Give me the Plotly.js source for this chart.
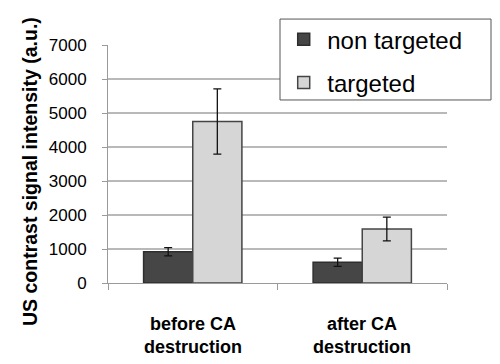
<!DOCTYPE html>
<html>
<head>
<meta charset="utf-8">
<script src="https://cdn.plot.ly/plotly-3.0.1.min.js"></script>
<style>html,body{margin:0;padding:0;background:#fff;}#chart{width:500px;height:364px;}</style>
</head>
<body>
<div id="chart"></div>
<script>
var categories = ["before CA destruction", "after CA destruction"];
var categoryLabels = ["before CA<br>destruction", "after CA<br>destruction"];
var seriesNames = ["non targeted", "targeted"];
var nonTargeted = [920, 610];
var nonTargetedErr = [120, 120];
var targeted = [4750, 1590];
var targetedErr = [960, 350];
var yTicks = [0, 1000, 2000, 3000, 4000, 5000, 6000, 7000];
var yTitle = "US contrast signal intensity (a.u.)";

var FONT = '"Liberation Sans", Arial, sans-serif';

var traces = [
  {
    type: 'bar', name: seriesNames[0], x: categories, y: nonTargeted,
    legendgroup: 'a',
    marker: {color: '#464646', line: {color: '#2e2e2e', width: 1.5}},
    error_y: {type: 'data', array: nonTargetedErr, visible: true, color: '#111', thickness: 1.3, width: 4}
  },
  {
    type: 'bar', name: seriesNames[1], x: categories, y: targeted,
    legendgroup: 'b',
    marker: {color: '#d6d6d6', line: {color: '#454545', width: 1.5}},
    error_y: {type: 'data', array: targetedErr, visible: true, color: '#111', thickness: 1.3, width: 4}
  }
];

var annotations = [{
  text: yTitle, textangle: -90, xref: 'paper', yref: 'paper',
  x: 0, y: 0.5, xshift: -91, yshift: -8, showarrow: false,
  font: {family: FONT, size: 19.5, color: '#000', weight: 'bold'}
}];
categories.forEach(function (c, i) {
  annotations.push({
    text: '<b>' + categoryLabels[i] + '</b>', x: c, xref: 'x', yref: 'paper', y: 0,
    yanchor: 'top', yshift: -29, showarrow: false,
    font: {family: FONT, size: 18, color: '#000'}
  });
});

var layout = {
  width: 500, height: 364,
  margin: {l: 108, r: 53, t: 45, b: 81},
  paper_bgcolor: '#fff', plot_bgcolor: '#fff',
  font: {family: FONT, color: '#000'},
  barmode: 'group', bargap: 0.42, bargroupgap: 0,
  showlegend: true,
  legend: {
    x: 0.508, xanchor: 'left', y: 1.117, yanchor: 'top',
    borderwidth: 0, bgcolor: 'rgba(0,0,0,0)',
    font: {family: FONT, size: 24, color: '#000'},
    traceorder: 'grouped', tracegroupgap: 9,
    itemwidth: 37
  },
  shapes: [{
    type: 'rect', xref: 'paper', yref: 'paper', layer: 'above',
    x0: 0.5074, x1: 1.1298, y0: 0.769, y1: 1.109,
    line: {color: '#555', width: 1}, fillcolor: '#fff'
  }],
  xaxis: {
    type: 'category', range: [-0.5, 1.5], showticklabels: false,
    showline: true, linecolor: '#9a9a9a', linewidth: 1,
    ticks: 'outside', tickson: 'boundaries', ticklen: 6, tickcolor: '#9a9a9a',
    showgrid: false, zeroline: false, fixedrange: true
  },
  yaxis: {
    range: [0, 7000], tickvals: yTicks, ticktext: yTicks.map(String),
    showline: true, linecolor: '#9a9a9a', linewidth: 1,
    ticks: 'outside', ticklen: 5, tickcolor: '#9a9a9a', ticklabelstandoff: 12,
    showgrid: true, gridcolor: '#b9b9b9', gridwidth: 1.5, zeroline: false,
    tickfont: {family: FONT, size: 17, color: '#000'}, fixedrange: true
  },
  annotations: annotations
};

Plotly.newPlot('chart', traces, layout, {displayModeBar: false, staticPlot: true});
</script>
</body>
</html>
